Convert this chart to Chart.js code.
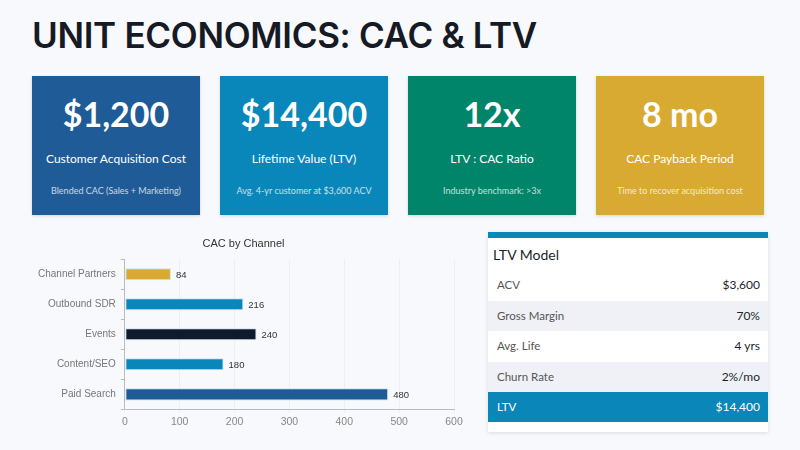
<!DOCTYPE html>
<html>
<head>
<meta charset="utf-8">
<script src="https://cdn.jsdelivr.net/npm/chart.js@4/dist/chart.umd.min.js"></script>
<style>
  html,body{margin:0;padding:0;}
  body{width:800px;height:450px;background:#f8f9fc;position:relative;overflow:hidden;font-family:Lato,"Open Sans",sans-serif;}
  h1{position:absolute;left:32px;top:14px;margin:0;font-family:Inter,sans-serif;font-weight:600;font-size:35px;letter-spacing:-0.3px;color:#161a24;}
  .card{position:absolute;top:76px;width:168px;height:139px;color:#fff;text-align:center;box-shadow:0 1px 3px rgba(0,0,0,0.15);}
  .card .big{position:absolute;left:0;right:0;font-weight:700;font-size:34px;top:17px;}
  .card .lbl{position:absolute;left:0;right:0;top:75px;font-size:12px;}
  .card .sub{position:absolute;left:0;right:0;top:109px;font-size:9px;opacity:0.75;}
  #chartWrap{position:absolute;left:33px;top:232px;width:437px;height:208px;}
  .tbl{position:absolute;left:488px;top:232px;width:280px;height:200px;background:#fff;box-shadow:0 1px 4px rgba(0,0,0,0.12);border-top:6px solid #0a86b9;box-sizing:border-box;}
  .tbl .ttl{position:absolute;left:5px;top:8px;font-size:14px;color:#1b1f2a;}
  .row{position:absolute;left:0;right:0;height:30px;font-size:11.5px;line-height:30px;}
  .row .k{position:absolute;left:9px;color:#555;}
  .row .v{position:absolute;right:8px;color:#1b1f2a;font-size:12px;}
  .row.alt{background:#eff1f6;}
  .row.hl{background:#0a86b9;}
  .row.hl .k,.row.hl .v{color:#fff;}
</style>
</head>
<body>
<h1>UNIT ECONOMICS: CAC &amp; LTV</h1>
<div id="cards"></div>
<div id="chartWrap"><canvas id="c"></canvas></div>
<div class="tbl" id="tbl"><div class="ttl">LTV Model</div></div>
<script>
const kpiValues = ["$1,200", "$14,400", "12x", "8 mo"];
const kpiLabels = ["Customer Acquisition Cost", "Lifetime Value (LTV)", "LTV : CAC Ratio", "CAC Payback Period"];
const kpiNotes = ["Blended CAC (Sales + Marketing)", "Avg. 4-yr customer at $3,600 ACV", "Industry benchmark: >3x", "Time to recover acquisition cost"];
const kpiColors = ["#1f5b97", "#0a87ba", "#00856a", "#d9aa32"];

const channels = ["Channel Partners", "Outbound SDR", "Events", "Content/SEO", "Paid Search"];
const cacValues = [84, 216, 240, 180, 480];
const barColors = ["#d9aa32", "#0a87ba", "#0f1a2b", "#0a87ba", "#1f5b97"];

const modelLabels = ["ACV", "Gross Margin", "Avg. Life", "Churn Rate", "LTV"];
const modelValues = ["$3,600", "70%", "4 yrs", "2%/mo", "$14,400"];

const cardsEl = document.getElementById('cards');
kpiValues.forEach((v, i) => {
  const d = document.createElement('div');
  d.className = 'card';
  d.style.left = (32 + i * 188) + 'px';
  d.style.background = kpiColors[i];
  d.innerHTML = '<div class="big">' + v + '</div><div class="lbl">' + kpiLabels[i] + '</div><div class="sub">' + kpiNotes[i] + '</div>';
  cardsEl.appendChild(d);
});

const tbl = document.getElementById('tbl');
modelLabels.forEach((k, i) => {
  const r = document.createElement('div');
  r.className = 'row' + (i === 4 ? ' hl' : (i % 2 === 1 ? ' alt' : ''));
  r.style.top = (32 + i * 30.5) + 'px';
  r.innerHTML = '<span class="k">' + k + '</span><span class="v">' + modelValues[i] + '</span>';
  tbl.appendChild(r);
});

const valueLabels = {
  id: 'valueLabels',
  afterDatasetsDraw(chart) {
    const ctx = chart.ctx;
    const meta = chart.getDatasetMeta(0);
    ctx.save();
    ctx.font = '9.5px "Liberation Sans", Arial, sans-serif';
    ctx.fillStyle = '#333';
    ctx.textBaseline = 'middle';
    ctx.textAlign = 'left';
    meta.data.forEach((bar, i) => {
      ctx.fillText(String(cacValues[i]), bar.x + 5, bar.y + 1);
    });
    ctx.restore();
  }
};

new Chart(document.getElementById('c'), {
  type: 'bar',
  data: {
    labels: channels,
    datasets: [{
      data: cacValues,
      backgroundColor: barColors,
      borderColor: 'rgba(190,225,240,0.9)',
      borderWidth: 1,
      borderSkipped: false,
      barPercentage: 0.5,
      categoryPercentage: 0.8
    }]
  },
  options: {
    indexAxis: 'y',
    responsive: true,
    maintainAspectRatio: false,
    animation: false,
    layout: { padding: { top: 0, right: 16, bottom: 10, left: 0 } },
    plugins: {
      legend: { display: false },
      tooltip: { enabled: false },
      title: {
        display: true,
        text: 'CAC by Channel',
        color: '#333',
        font: { family: '"Liberation Sans", Arial, sans-serif', size: 11, weight: 'normal' },
        padding: { top: 5, bottom: 9 }
      }
    },
    scales: {
      x: {
        min: 0, max: 600,
        ticks: { stepSize: 100, color: '#888', font: { family: '"Liberation Sans", Arial, sans-serif', size: 10.5 }, padding: 2 },
        grid: { color: 'rgba(0,0,0,0.04)', drawTicks: true, tickLength: 4 },
        border: { color: '#bbb' }
      },
      y: {
        ticks: { color: '#777', font: { family: '"Liberation Sans", Arial, sans-serif', size: 10 }, padding: 5 },
        grid: { display: true, drawOnChartArea: false, tickLength: 4, color: '#bbb' },
        border: { color: '#bbb' }
      }
    }
  },
  plugins: [valueLabels]
});
</script>
</body>
</html>
